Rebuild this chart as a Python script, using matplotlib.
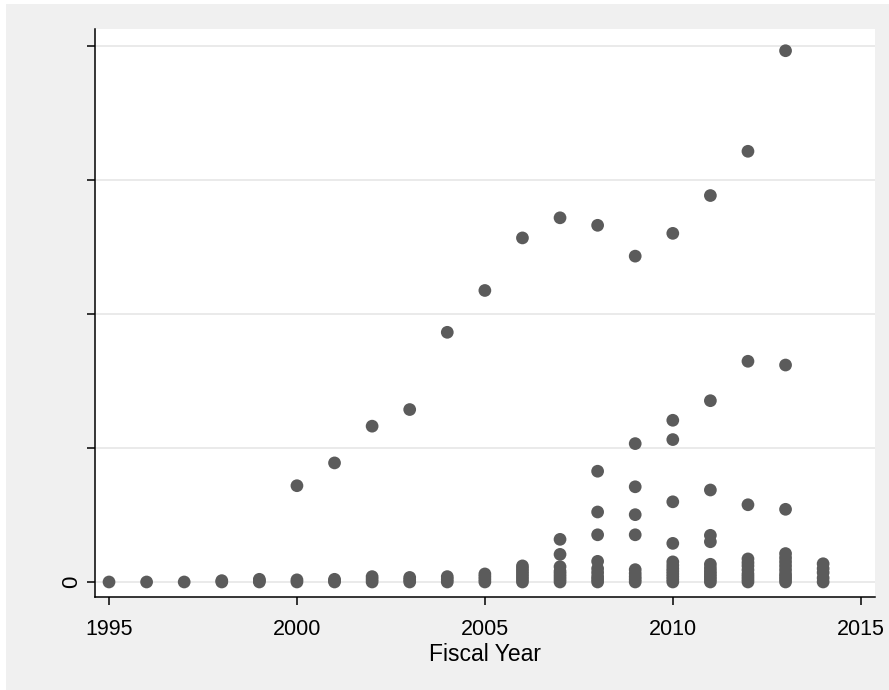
import matplotlib
matplotlib.use("Agg")
import matplotlib.pyplot as plt
from matplotlib.patches import Rectangle

plt.rcParams["font.family"] = ["Liberation Sans", "DejaVu Sans"]

# Observations per fiscal year (same units as the y axis ticks)
fiscal_years = list(range(1995, 2015))
values_by_year = [
    [0.0],                                                  # 1995
    [0.0],                                                  # 1996
    [0.0],                                                  # 1997
    [0.0, 0.05],                                            # 1998
    [0.0, 0.05, 0.1],                                       # 1999
    [0.0, 0.08, 3.59],                                      # 2000
    [0.0, 0.05, 0.1, 4.44],                                 # 2001
    [0.0, 0.1, 0.2, 5.81],                                  # 2002
    [0.0, 0.08, 0.17, 6.43],                                # 2003
    [0.0, 0.1, 0.2, 9.31],                                  # 2004
    [0.0, 0.1, 0.2, 0.3, 10.87],                            # 2005
    [0.0, 0.1, 0.2, 0.3, 0.4, 0.5, 0.6, 12.83],             # 2006
    [0.0, 0.1, 0.2, 0.3, 0.4, 0.57, 1.03, 1.59, 13.58],     # 2007
    [0.0, 0.1, 0.2, 0.35, 0.5, 0.77, 1.76, 2.61, 4.13, 13.30],        # 2008
    [0.0, 0.1, 0.2, 0.32, 0.46, 1.76, 2.51, 3.55, 5.16, 12.15],       # 2009
    [0.0, 0.1, 0.2, 0.3, 0.4, 0.5, 0.62, 0.75, 1.44, 2.99, 5.31, 6.03, 13.00],  # 2010
    [0.0, 0.1, 0.2, 0.3, 0.4, 0.52, 0.66, 1.50, 1.74, 3.43, 6.76, 14.41],       # 2011
    [0.0, 0.1, 0.2, 0.3, 0.45, 0.6, 0.72, 0.86, 2.88, 8.23, 16.06],             # 2012
    [0.0, 0.1, 0.2, 0.3, 0.45, 0.6, 0.75, 0.9, 1.06, 2.71, 8.09, 19.81],        # 2013
    [0.0, 0.15, 0.35, 0.5, 0.68],                           # 2014
]

x_ticks = [1995, 2000, 2005, 2010, 2015]
y_ticks = [0, 5, 10, 15, 20]
y_tick_labels = ["0", "", "", "", ""]

xs, ys = [], []
for yr, vals in zip(fiscal_years, values_by_year):
    xs.extend([yr] * len(vals))
    ys.extend(vals)

fig = plt.figure(figsize=(8.89, 6.90), dpi=100, facecolor="white")
# light grey graph region, leaving a thin white margin at the left and top
fig.patches.append(Rectangle((6 / 889, 0), 1 - 6 / 889, 1 - 4 / 690,
                             transform=fig.transFigure, facecolor="#f0f0f0",
                             edgecolor="none", zorder=-10))

ax = fig.add_axes([95 / 889, (690 - 597) / 690, 780 / 889, 568 / 690])
ax.set_zorder(1)
ax.set_facecolor("white")

ax.scatter(xs, ys, s=84, color="#5b5b5b", edgecolors="none", zorder=3)

ax.set_xlim(1994.627, 2015.38)
ax.set_ylim(-0.56, 20.62)

ax.set_xticks(x_ticks)
ax.set_yticks(y_ticks)
ax.set_yticklabels(y_tick_labels, rotation=90, va="center")

ax.grid(axis="y", color="#e6e6e6", linewidth=1.2, zorder=0)
ax.grid(axis="x", visible=False)
ax.set_axisbelow(True)

for side in ("top", "right"):
    ax.spines[side].set_visible(False)
for side in ("left", "bottom"):
    ax.spines[side].set_linewidth(1.1)
    ax.spines[side].set_color("black")

ax.tick_params(axis="both", direction="out", length=6, width=1.1,
               colors="black", labelsize=15.5)
ax.tick_params(axis="x", pad=9.5)
ax.tick_params(axis="y", pad=3.5, labelsize=16)

ax.set_xlabel("Fiscal Year", fontsize=16.5, labelpad=2.5)

fig.savefig("out.png", dpi=100, facecolor=fig.get_facecolor())
